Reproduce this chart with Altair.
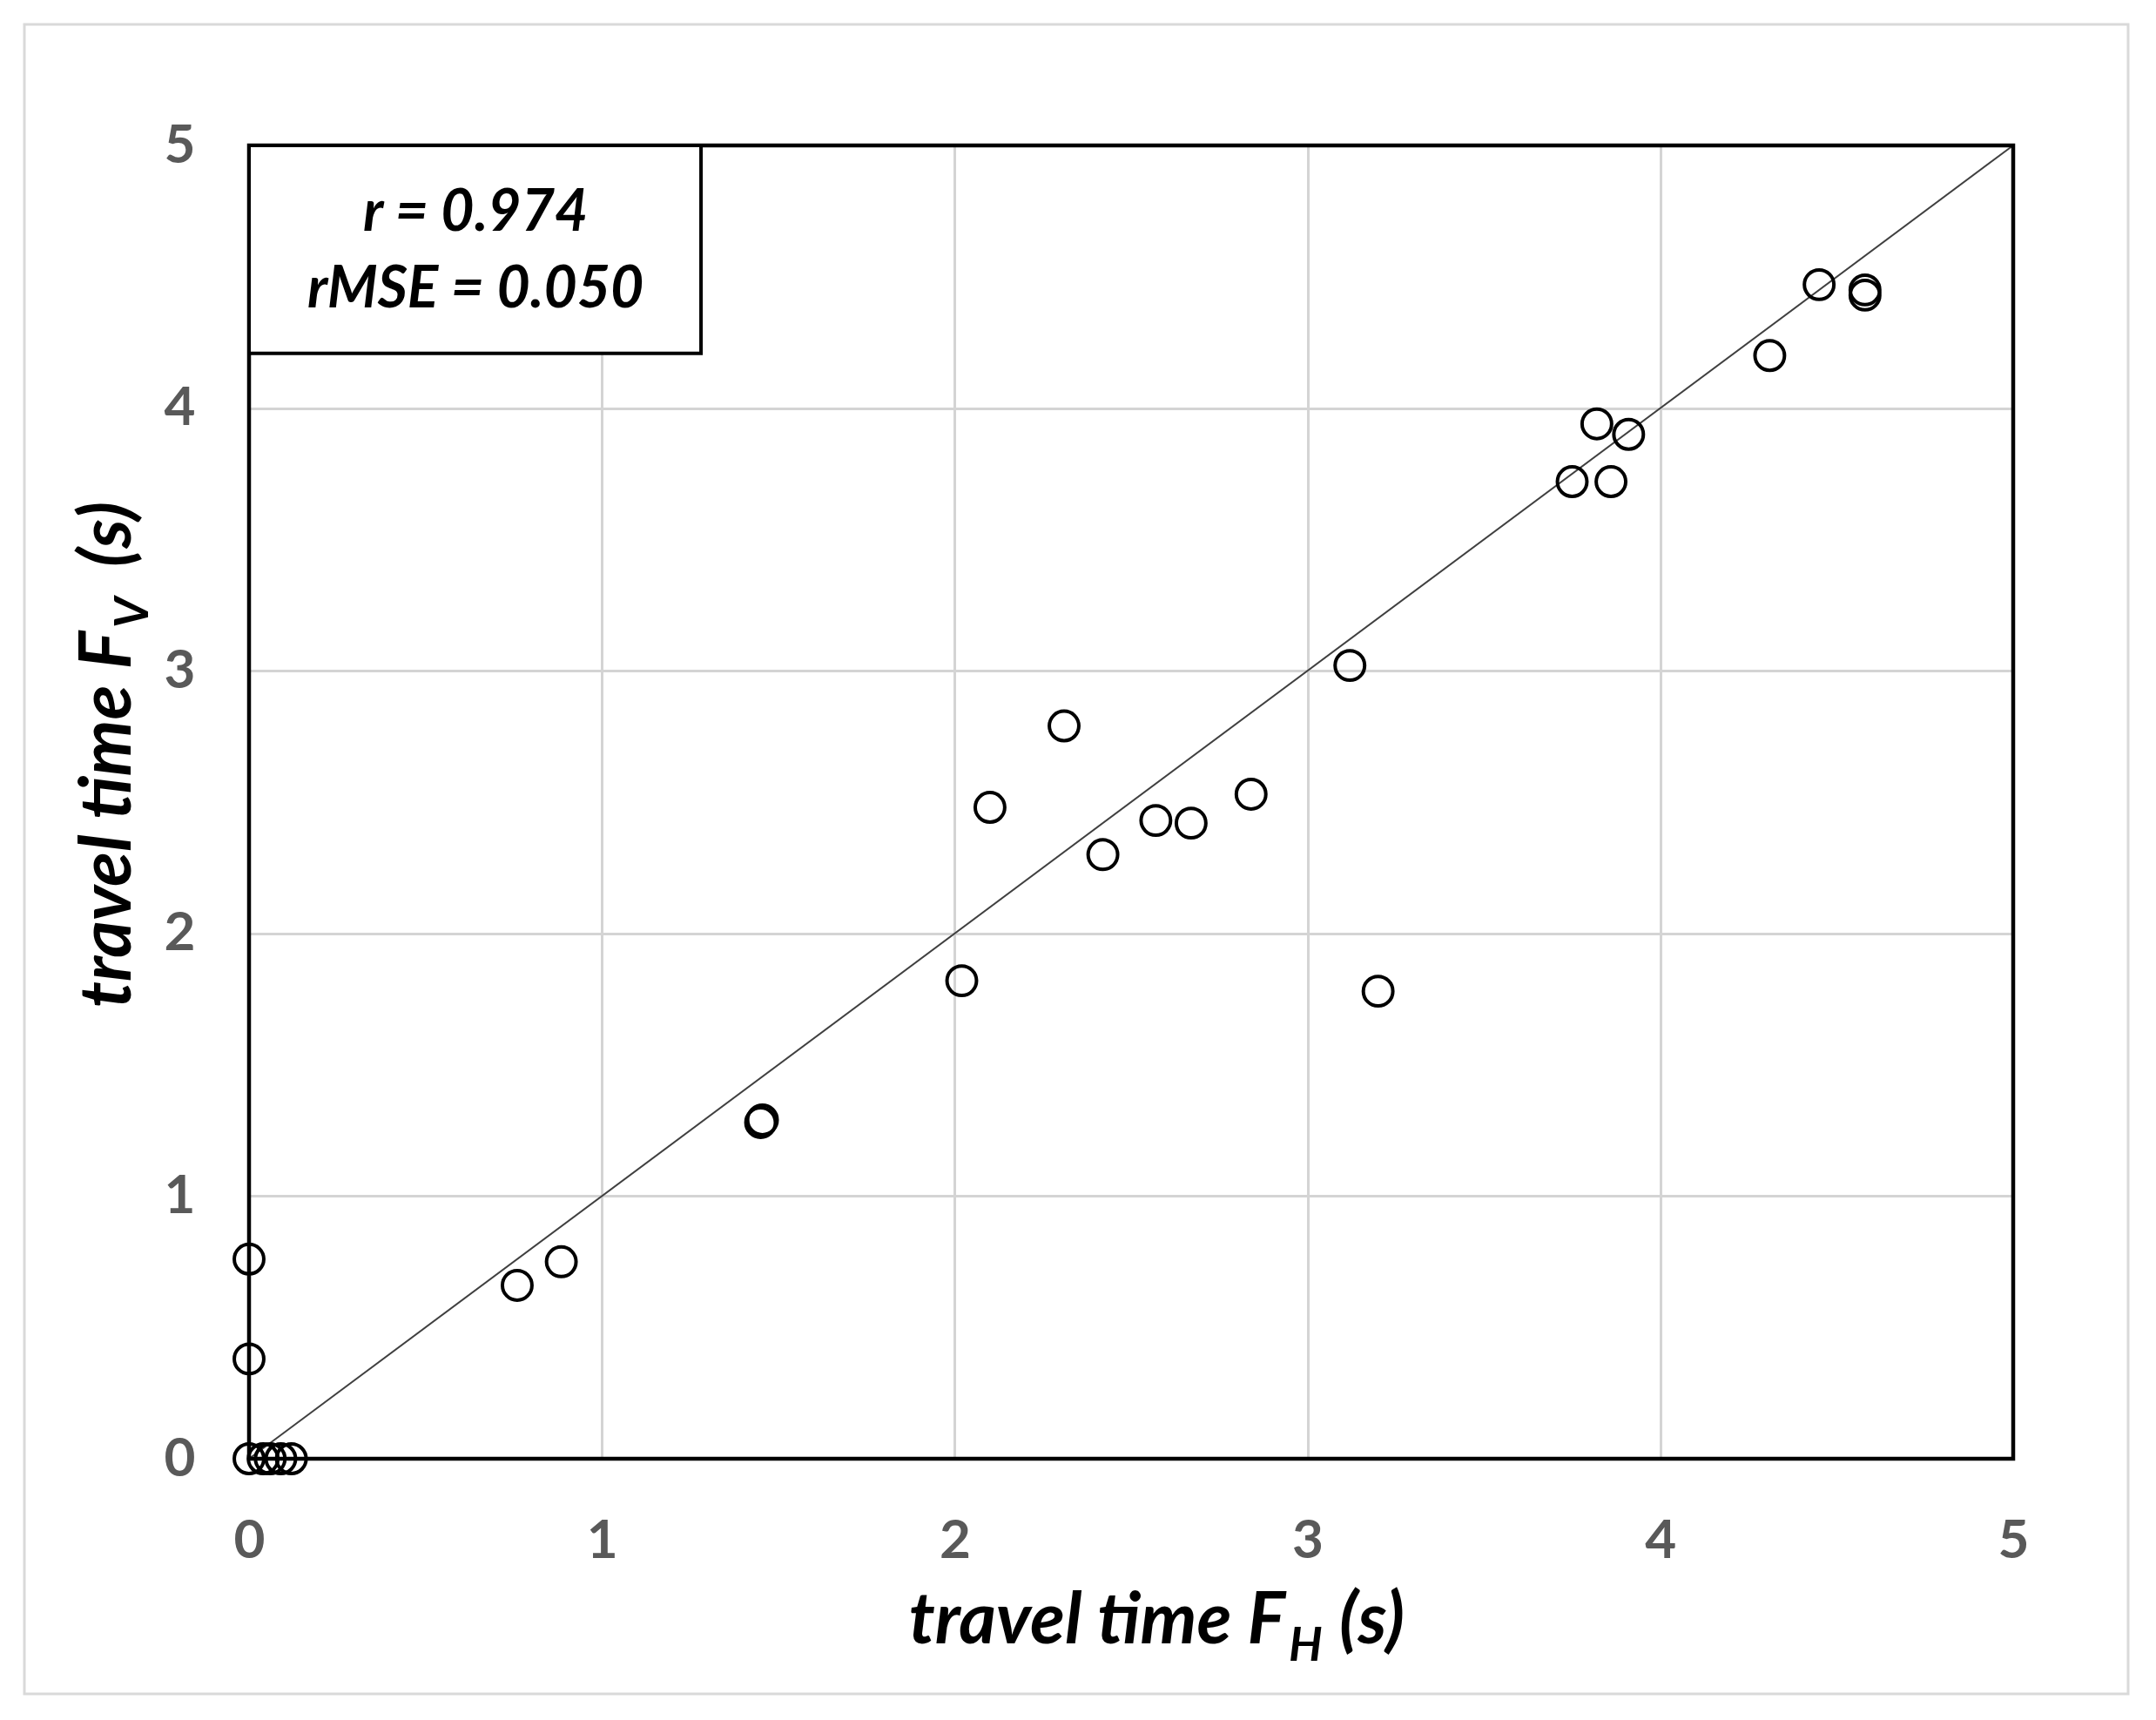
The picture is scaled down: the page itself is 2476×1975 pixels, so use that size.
import altair as alt
import pandas as pd

# ---- data ----
fh = [0.00, 0.04, 0.06, 0.09, 0.12, 0.00, 0.00, 0.76, 0.885, 1.45, 1.455,
      2.02, 2.10, 2.31, 2.42, 2.57, 2.67, 2.84, 3.12, 3.20,
      3.75, 3.82, 3.86, 3.91, 4.31, 4.45, 4.58, 4.58]
fv = [0.00, 0.00, 0.00, 0.00, 0.00, 0.38, 0.76, 0.66, 0.75, 1.28, 1.29,
      1.82, 2.48, 2.79, 2.30, 2.43, 2.42, 2.53, 3.02, 1.78,
      3.72, 3.94, 3.72, 3.90, 4.20, 4.47, 4.45, 4.43]
line_x = [0, 5]
line_y = [0, 5]
stats_lines = ["r = 0.974", "rMSE = 0.050"]
stats_y = [4.74, 4.45]
box_x = [0.0]
box_x2 = [1.281]
box_y = [5.0]
box_y2 = [4.208]
frame_x, frame_x2, frame_y, frame_y2 = [0.0], [5.0], [0.0], [5.0]
tick_values = [0, 1, 2, 3, 4, 5]
x_title = ["travel time F", "H", "(s)"]
y_title = ["travel time F", "V", "(s)"]

W, H = 2026, 1508
FONT = "Lato"
TS = 82   # title font size
SS = 54   # subscript font size

pts = pd.DataFrame({"fh": fh, "fv": fv})
xs = alt.Scale(domain=[0, 5], nice=False)
ys = alt.Scale(domain=[0, 5], nice=False)

def make_axis(pad):
    return alt.Axis(values=tick_values, format="d", grid=True, ticks=False, domain=False,
                    labelPadding=pad, labelFontSize=62, labelFont=FONT,
                    labelFontWeight="bold", labelColor="#595959", title=None,
                    gridColor="#d4d4d4", gridWidth=3, labelFlush=False)

diag = alt.Chart(pd.DataFrame({"x": line_x, "y": line_y})).mark_line(
    color="#404040", strokeWidth=2
).encode(x=alt.X("x:Q", scale=xs, axis=make_axis(64)),
         y=alt.Y("y:Q", scale=ys, axis=make_axis(62)))

border = alt.Chart(pd.DataFrame({"x": frame_x, "x2": frame_x2, "y": frame_y, "y2": frame_y2})).mark_rect(
    fill="transparent", stroke="black", strokeWidth=4.5
).encode(x=alt.X("x:Q", scale=xs), x2="x2:Q", y=alt.Y("y:Q", scale=ys), y2="y2:Q")

points = alt.Chart(pts).mark_point(
    shape="circle", filled=False, color="black", strokeWidth=4, size=1150, opacity=1
).encode(x=alt.X("fh:Q", scale=xs), y=alt.Y("fv:Q", scale=ys))

box = alt.Chart(pd.DataFrame({"x": box_x, "x2": box_x2, "y": box_y, "y2": box_y2})).mark_rect(
    fill="white", stroke="black", strokeWidth=4
).encode(x=alt.X("x:Q", scale=xs), x2="x2:Q", y=alt.Y("y:Q", scale=ys), y2="y2:Q")

stats = alt.Chart(pd.DataFrame({"t": stats_lines, "y": stats_y, "x": [0.642, 0.642]})).mark_text(
    font=FONT, fontSize=66, fontWeight="bold", fontStyle="italic", color="black",
    align="center", baseline="middle"
).encode(x=alt.X("x:Q", scale=xs), y=alt.Y("y:Q", scale=ys), text="t:N")

def piece(txt, x, y, size, align, angle=0):
    return alt.Chart(pd.DataFrame({"t": [txt]})).mark_text(
        font=FONT, fontSize=size, fontWeight="bold", fontStyle="italic", color="black",
        align=align, baseline="alphabetic", angle=angle
    ).encode(x=alt.value(x), y=alt.value(y), text="t:N")

xt1 = piece(x_title[0], 1190, 1720, TS, "right")
xt2 = piece(x_title[1], 1194, 1740, SS, "left")
xt3 = piece(x_title[2], 1252, 1720, TS, "left")

yt1 = piece(y_title[0], -136, 558, TS, "right", 270)
yt2 = piece(y_title[1], -116, 554, SS, "left", 270)
yt3 = piece(y_title[2], -136, 484, TS, "left", 270)

frame = alt.Chart(pd.DataFrame({"a": [0]})).mark_rect(
    fill="transparent", stroke="#d9d9d9", strokeWidth=3
).encode(x=alt.value(-258), x2=alt.value(2158), y=alt.value(-139), y2=alt.value(1778))

chart = alt.layer(frame, diag, points, border, box, stats,
                  xt1, xt2, xt3, yt1, yt2, yt3).properties(
    width=W, height=H,
    autosize=alt.AutoSizeParams(type="none"),
    padding={"left": 278, "top": 159, "right": 156, "bottom": 280},
    background="white",
).configure_view(stroke=None)

chart.save("out.html", embed_options={"renderer": "svg", "actions": False})
